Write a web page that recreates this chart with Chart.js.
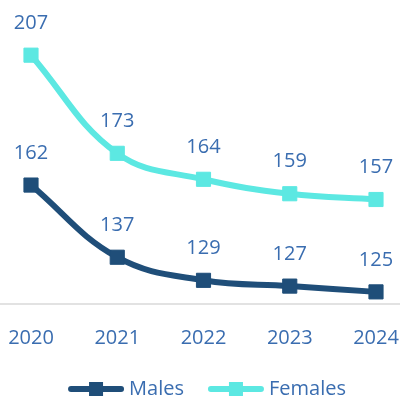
<!DOCTYPE html>
<html>
<head>
<meta charset="utf-8">
<script src="https://cdn.jsdelivr.net/npm/chart.js@4/dist/chart.umd.min.js"></script>
<style>
  html, body { margin: 0; padding: 0; background: #fff; }
  #wrap { width: 400px; height: 400px; }
</style>
</head>
<body>
<div id="wrap"><canvas id="chart"></canvas></div>
<script>
const years = ['2020', '2021', '2022', '2023', '2024'];
const males = [162, 137, 129, 127, 125];
const females = [207, 173, 164, 159, 157];

const TEXT_BLUE = '#3a6db0';
const MALE_COLOR = '#1f4e79';
const FEMALE_COLOR = '#5ce8e2';
const FONT = '"Open Sans", sans-serif';

// value labels above each marker + full-width baseline
const extras = {
    id: 'extras',
    beforeDatasetsDraw(chart) {
        const ctx = chart.ctx;
        const y = chart.chartArea.bottom;
        ctx.save();
        ctx.strokeStyle = '#d9d9d9';
        ctx.lineWidth = 1.5;
        ctx.beginPath();
        ctx.moveTo(0, y);
        ctx.lineTo(chart.width, y);
        ctx.stroke();
        ctx.restore();
    },
    afterDatasetsDraw(chart) {
        const ctx = chart.ctx;
        ctx.save();
        ctx.font = '20px ' + FONT;
        ctx.fillStyle = TEXT_BLUE;
        ctx.textAlign = 'center';
        ctx.textBaseline = 'middle';
        chart.data.datasets.forEach(function(ds, i) {
            chart.getDatasetMeta(i).data.forEach(function(pt, j) {
                ctx.fillText(String(ds.data[j]), pt.x, pt.y - 32);
            });
        });

        // legend: line + square marker + text
        const cy = 389;
        const lineLen = 56;
        const gapText = 5;
        const gapItem = 24;
        const widths = chart.data.datasets.map(ds => ctx.measureText(ds.label).width);
        let total = 0;
        widths.forEach(function(w, i) {
            total += lineLen + gapText + w + (i ? gapItem : 0);
        });
        let x = chart.width / 2 + 7 - total / 2;
        ctx.textAlign = 'left';
        chart.data.datasets.forEach(function(ds, i) {
            ctx.strokeStyle = ds.borderColor;
            ctx.lineWidth = 6;
            ctx.lineCap = 'round';
            ctx.beginPath();
            ctx.moveTo(x + 3, cy);
            ctx.lineTo(x + lineLen - 3, cy);
            ctx.stroke();
            ctx.fillStyle = ds.borderColor;
            ctx.fillRect(x + lineLen / 2 - 7, cy - 7, 14, 14);
            ctx.fillStyle = TEXT_BLUE;
            ctx.fillText(ds.label, x + lineLen + gapText, cy);
            x += lineLen + gapText + widths[i] + gapItem;
        });
        ctx.restore();
    }
};

new Chart(document.getElementById('chart'), {
    type: 'line',
    data: {
        labels: years,
        datasets: [
            {
                label: 'Males',
                data: males,
                borderColor: MALE_COLOR,
                backgroundColor: MALE_COLOR,
                borderWidth: 6,
                pointStyle: 'rect',
                pointRadius: 10,
                pointBorderWidth: 1,
                tension: 0.4,
                clip: false
            },
            {
                label: 'Females',
                data: females,
                borderColor: FEMALE_COLOR,
                backgroundColor: FEMALE_COLOR,
                borderWidth: 6,
                pointStyle: 'rect',
                pointRadius: 10,
                pointBorderWidth: 1,
                tension: 0.4,
                clip: false
            }
        ]
    },
    options: {
        responsive: true,
        maintainAspectRatio: false,
        animation: false,
        layout: {
            padding: { left: 31, right: 24, top: 0, bottom: 28 }
        },
        plugins: {
            legend: { display: false },
            tooltip: { enabled: false }
        },
        scales: {
            x: {
                offset: false,
                grid: { display: false, drawTicks: false },
                border: { display: false },
                ticks: {
                    color: TEXT_BLUE,
                    font: { family: FONT, size: 20 },
                    padding: 22,
                    maxRotation: 0
                },
                afterFit(scale) {
                    scale.paddingLeft = 0;
                    scale.paddingRight = 0;
                    scale.paddingTop = 0;
                    scale.paddingBottom = 0;
                }
            },
            y: {
                display: false,
                min: 120.8,
                max: 222.3
            }
        }
    },
    plugins: [extras]
});
</script>
</body>
</html>
